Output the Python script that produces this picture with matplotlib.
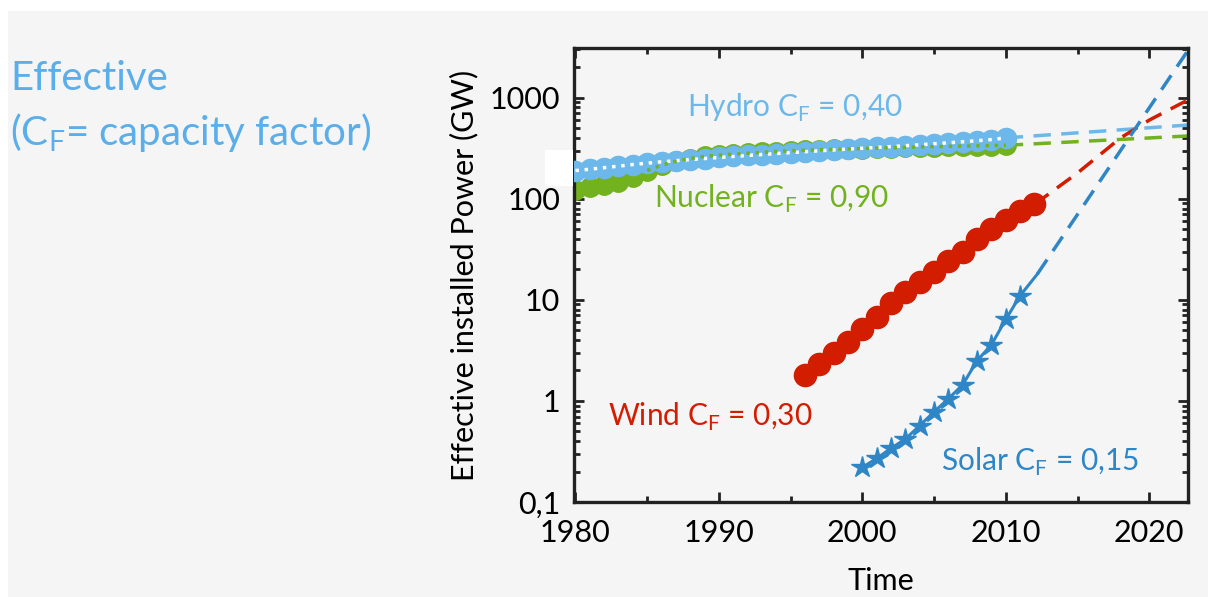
import numpy as np
import matplotlib.pyplot as plt
from matplotlib.ticker import FixedLocator, NullFormatter
from matplotlib.patches import Rectangle

plt.rcParams['font.family'] = ['Lato', 'DejaVu Sans']

# Measured data (GW, effective)
years_hydro = list(range(1980, 2011))
hydro = [190, 196, 203, 210, 218, 225, 232, 238, 244, 250, 256, 262, 268, 274,
         280, 286, 292, 298, 304, 310, 316, 322, 328, 335, 342, 350, 358, 366,
         375, 385, 400]
years_nuclear = list(range(1980, 2011))
nuclear = [122, 130, 138, 145, 165, 190, 215, 235, 250, 262, 270, 276, 282, 288,
           293, 298, 302, 305, 308, 311, 314, 317, 320, 322, 326, 328, 330, 332,
           334, 336, 338]
years_wind = list(range(1996, 2013))
wind = [1.8, 2.3, 3.0, 3.8, 5.2, 6.8, 9.3, 12, 15, 19, 24, 30, 40, 50, 62, 75, 88]
years_solar = list(range(2000, 2012))
solar = [0.22, 0.27, 0.34, 0.42, 0.57, 0.78, 1.05, 1.45, 2.5, 3.6, 6.4, 11]

# Extrapolations (dashed)
hydro_ext_x = [2010, 2023]
hydro_ext = [400, 540]
nuclear_ext_x = [2010, 2023]
nuclear_ext = [338, 420]
wind_ext_x = [2012, 2015, 2018, 2020, 2023]
wind_ext = [88, 180, 400, 600, 1000]
solar_line_x = [2011, 2012.2]
solar_line = [11, 18]
solar_ext_x = [2012.2, 2023]
solar_ext = [18, 3400]

c_hydro = '#6cb8ea'
c_nuclear = '#72b21e'
c_wind = '#d21d00'
c_solar = '#2f86c6'

fig = plt.figure(figsize=(12.08, 5.97), dpi=100)
fig.patch.set_facecolor('white')
fig.patches.append(Rectangle((8 / 1208, 0), 1, 1 - 11 / 597, transform=fig.transFigure,
                             facecolor='#f5f5f5', edgecolor='none', zorder=-10))

ax = fig.add_axes([574 / 1208, 1 - 502 / 597, (1188 - 574) / 1208, (502 - 48) / 597])
ax.set_facecolor('#f5f5f5')
ax.set_yscale('log')

ax.plot(years_nuclear, nuclear, 'o', color=c_nuclear, ms=14, zorder=2)
ax.plot(years_hydro, hydro, 'o', color=c_hydro, ms=14.5, zorder=3)
ax.plot(years_hydro, hydro, ':', color='white', lw=2.5, zorder=4)
ax.plot(years_nuclear[5:], nuclear[5:], ':', color=c_nuclear, lw=2.5, zorder=5)
ax.plot(hydro_ext_x, hydro_ext, '--', color=c_hydro, lw=2.5, dashes=(5, 3))
ax.plot(nuclear_ext_x, nuclear_ext, '--', color=c_nuclear, lw=2.5, dashes=(5, 3))

ax.plot(years_wind, wind, 'o', color=c_wind, ms=16, zorder=3)
ax.plot(wind_ext_x, wind_ext, '--', color=c_wind, lw=2.5, dashes=(5, 3))

ax.plot(years_solar, solar, '*-', color=c_solar, ms=16, lw=2.2, zorder=3)
ax.plot(solar_line_x, solar_line, '-', color=c_solar, lw=2.2)
ax.plot(solar_ext_x, solar_ext, '--', color=c_solar, lw=2.5, dashes=(5, 3))

ax.set_xlim(1979.9, 2022.7)
ax.set_ylim(0.1, 3100)

ax.xaxis.set_major_locator(FixedLocator([1980, 1990, 2000, 2010, 2020]))
ax.xaxis.set_minor_locator(FixedLocator([1985, 1995, 2005, 2015]))
ax.set_yticks([0.1, 1, 10, 100, 1000])
ax.set_yticklabels(['0,1', '1', '10', '100', '1000'])
ax.yaxis.set_minor_formatter(NullFormatter())
ax.tick_params(which='both', direction='in', top=True, right=True, labelsize=22,
               width=2, color='#222222')
ax.tick_params(axis='x', pad=12)
ax.tick_params(axis='y', pad=10)
ax.tick_params(which='major', length=7)
ax.tick_params(which='minor', length=4)
for s in ax.spines.values():
    s.set_linewidth(2.4)
    s.set_color('#222222')

ax.set_ylabel('Effective installed Power (GW)', fontsize=22, labelpad=8)
ax.set_xlabel('Time', fontsize=22, labelpad=15)

ax.text(1987.8, 790, r'Hydro C$_\mathregular{F}$ = 0,40', color=c_hydro, fontsize=21.5, va='center')
ax.text(1985.5, 99, r'Nuclear C$_\mathregular{F}$ = 0,90', color=c_nuclear, fontsize=21.5, va='center')
ax.text(1982.3, 0.7, r'Wind C$_\mathregular{F}$ = 0,30', color=c_wind, fontsize=21.5, va='center')
ax.text(2005.5, 0.25, r'Solar C$_\mathregular{F}$ = 0,15', color=c_solar, fontsize=21.5, va='center')

# white patch covering the axis labels
fig.patches.append(Rectangle((545 / 1208, 1 - 186 / 597), 28 / 1208, 36 / 597,
                             transform=fig.transFigure, facecolor='white',
                             edgecolor='none', zorder=5))

fig.text(10 / 1208, 1 - 78 / 597, 'Effective', color='#5aaeea', fontsize=29, va='center')
fig.text(10 / 1208, 1 - 133 / 597, r'(C$_\mathregular{F}$= capacity factor)', color='#5aaeea',
         fontsize=29, va='center')

fig.savefig('out.png', dpi=100, facecolor=fig.get_facecolor())
